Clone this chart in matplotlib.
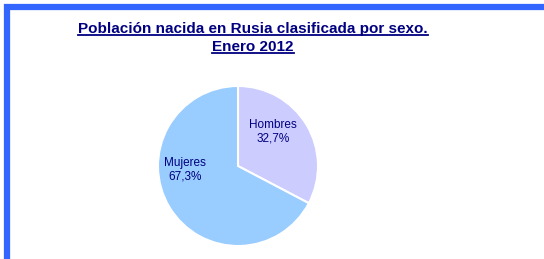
import matplotlib
matplotlib.use('Agg')
import matplotlib.pyplot as plt
from matplotlib.lines import Line2D
from matplotlib.patches import Rectangle

plt.rcParams['font.family'] = ['Liberation Sans', 'DejaVu Sans']

labels = ['Hombres', 'Mujeres']
values = [32.7, 67.3]
colors = ['#CCCCFF', '#99CCFF']
title_lines = ['Población nacida en Rusia clasificada por sexo.', 'Enero 2012']
navy = '#000080'

W, H = 544, 259
fig = plt.figure(figsize=(W/100, H/100), dpi=100)

# blue frame (top and left edges visible)
fig.add_artist(Rectangle((7/W, -0.1), 1.2, (H - 7.5)/H + 0.1, transform=fig.transFigure,
                         fill=False, edgecolor='#3366FF', linewidth=4.5))

# pie
cx, cy, r = 238, 166, 80
ax = fig.add_axes([(cx - r)/W, (H - cy - r)/H, 2*r/W, 2*r/H])
wedges, texts = ax.pie(values, colors=colors, startangle=90, counterclock=False,
                       wedgeprops=dict(edgecolor='white', linewidth=1.5))
ax.set_aspect('auto')
ax.set_xlim(-1, 1)
ax.set_ylim(-1, 1)
ax.axis('off')

label_pos = [(273, 132), (185, 170)]
for lab, v, (px, py) in zip(labels, values, label_pos):
    fig.text(px/W, 1 - py/H, '%s\n%s%%' % (lab, ('%.1f' % v).replace('.', ',')),
             ha='center', va='center', color=navy, fontsize=8.5, linespacing=1.2)

# title, underlined
tys = [29, 47]
tts = []
for t, ty in zip(title_lines, tys):
    tts.append(fig.text(253/W, 1 - ty/H, t, ha='center', va='center', color=navy,
                        fontsize=11, fontweight='bold'))
fig.canvas.draw()
rend = fig.canvas.get_renderer()
for tt in tts:
    bb = tt.get_window_extent(rend)
    y = bb.y0 + 1
    fig.add_artist(Line2D([bb.x0/W, bb.x1/W], [y/H, y/H], transform=fig.transFigure,
                          color=navy, linewidth=1.3))

fig.savefig('out.png', dpi=100)
